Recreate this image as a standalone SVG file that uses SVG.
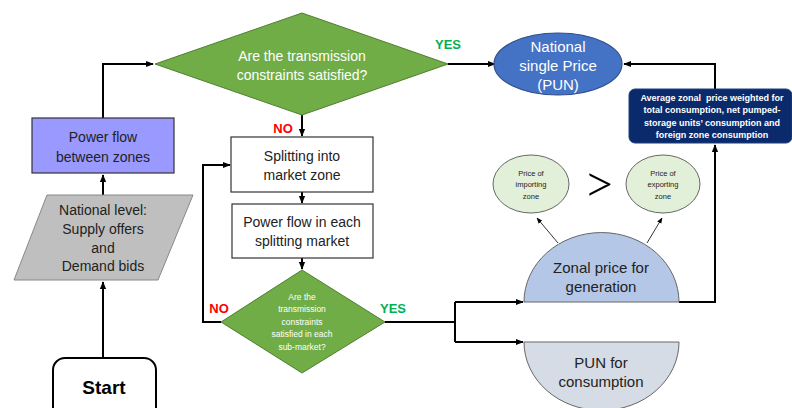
<svg xmlns="http://www.w3.org/2000/svg" width="792" height="408" viewBox="0 0 792 408">
<defs>
<marker id="ah" viewBox="0 0 10 10" refX="9" refY="5" markerWidth="4" markerHeight="4" orient="auto" markerUnits="strokeWidth"><path d="M0,1 L10,5 L0,9 z" fill="#000"/></marker>
<marker id="ahs" viewBox="0 0 10 10" refX="9" refY="5" markerWidth="6" markerHeight="6" orient="auto" markerUnits="strokeWidth"><path d="M0,1 L10,5 L0,9 z" fill="#000"/></marker>
<style>
text{font-family:"Liberation Sans","Open Sans",sans-serif;text-anchor:middle}
.c{fill:none;stroke:#000;stroke-width:2}
.t{fill:none;stroke:#333;stroke-width:1}
.w{fill:#fff}
.d{fill:#222}
.lbl{font-weight:bold;font-size:13px}
</style>
</defs>
<rect width="792" height="408" fill="#fff"/>
<g id="connectors">
<polyline class="c" points="103,118 103,64 153,64" marker-end="url(#ah)"/>
<polyline class="c" points="448,64 495,64" marker-end="url(#ah)"/>
<polyline class="c" points="715,89 715,64 624,64" marker-end="url(#ah)"/>
<polyline class="c" points="302,115 302,136" marker-end="url(#ah)"/>
<polyline class="c" points="302,192 302,203" marker-end="url(#ah)"/>
<polyline class="c" points="302,258 302,269" marker-end="url(#ah)"/>
<polyline class="c" points="103,195 103,175" marker-end="url(#ah)"/>
<polyline class="c" points="103,358 103,282" marker-end="url(#ah)"/>
<polyline class="c" points="221,322 203,322 203,165 230,165" marker-end="url(#ah)"/>
<polyline class="c" points="385,322 455,322"/>
<polyline class="c" points="455,302 455,342"/>
<polyline class="c" points="455,302 523,302" marker-end="url(#ah)"/>
<polyline class="c" points="455,342 523,342" marker-end="url(#ah)"/>
<polyline class="c" points="679,302 715,302 715,145" marker-end="url(#ah)"/>
<line class="t" x1="558" y1="243" x2="537" y2="218" marker-end="url(#ahs)"/>
<line class="t" x1="647" y1="243" x2="662" y2="218" marker-end="url(#ahs)"/>
<text x="448" y="49" class="lbl" fill="#00B050">YES</text>
<text x="283" y="133" class="lbl" fill="#FF0000">NO</text>
<text x="219" y="313" class="lbl" fill="#FF0000">NO</text>
<text x="393" y="313" class="lbl" fill="#00B050">YES</text>
</g>
<g id="decision1">
<polygon points="155,64 302,13 448,64 302,115" fill="#70AD47" stroke="#507E32" stroke-width="1"/>
<text x="302" y="61" class="w" font-size="14">Are the transmission</text>
<text x="302" y="80" class="w" font-size="14">constraints satisfied?</text>
</g>
<g id="pun">
<ellipse cx="558" cy="64" rx="64" ry="31" fill="#4472C4" stroke="#2F4F8A" stroke-width="1.2"/>
<text x="558" y="52" class="w" font-size="15">National</text>
<text x="558" y="71" class="w" font-size="15">single Price</text>
<text x="558" y="90" class="w" font-size="15">(PUN)</text>
</g>
<g id="average">
<rect x="629" y="89" width="163" height="54" rx="6" fill="#0B2A6B" stroke="#1F3F7F" stroke-width="1"/>
<text x="712" y="101" class="w" font-size="9" font-weight="bold" xml:space="preserve">Average zonal  price weighted for</text>
<text x="712" y="113" class="w" font-size="9" font-weight="bold">total consumption, net pumped-</text>
<text x="712" y="126" class="w" font-size="9" font-weight="bold">storage units’ consumption and</text>
<text x="712" y="138" class="w" font-size="9" font-weight="bold">foreign zone consumption</text>
</g>
<g id="powerflow">
<rect x="32" y="118" width="142" height="55" fill="#9999FF" stroke="#333" stroke-width="1.2"/>
<text x="103" y="142" class="d" font-size="14">Power flow</text>
<text x="103" y="162" class="d" font-size="14">between zones</text>
</g>
<g id="national">
<polygon points="47,195 193,195 158,280 14,280" fill="#BFBFBF" stroke="#888" stroke-width="1"/>
<text x="103" y="215" class="d" font-size="14">National level:</text>
<text x="103" y="234" class="d" font-size="14">Supply offers</text>
<text x="103" y="253" class="d" font-size="14">and</text>
<text x="103" y="271" class="d" font-size="14">Demand bids</text>
</g>
<g id="start">
<rect x="53" y="358" width="103" height="70" rx="12" fill="#fff" stroke="#000" stroke-width="2"/>
<text x="104" y="394" font-size="19" font-weight="bold" fill="#000">Start</text>
</g>
<g id="splitting">
<rect x="231" y="137" width="142" height="55" fill="#fff" stroke="#333" stroke-width="1.2"/>
<text x="302" y="161" class="d" font-size="14">Splitting into</text>
<text x="302" y="180" class="d" font-size="14">market zone</text>
</g>
<g id="powerflow2">
<rect x="232" y="204" width="141" height="54" fill="#fff" stroke="#333" stroke-width="1.2"/>
<text x="302" y="227" class="d" font-size="14">Power flow in each</text>
<text x="302" y="246" class="d" font-size="14">splitting market</text>
</g>
<g id="decision2">
<polygon points="221,322 302,270 385,322 302,373" fill="#70AD47" stroke="#507E32" stroke-width="1"/>
<text x="302" y="300" class="w" font-size="8.5">Are the</text>
<text x="302" y="312" class="w" font-size="8.5">transmission</text>
<text x="302" y="325" class="w" font-size="8.5">constraints</text>
<text x="302" y="337" class="w" font-size="8.5">satisfied in each</text>
<text x="302" y="350" class="w" font-size="8.5">sub-market?</text>
</g>
<g id="zonal">
<path d="M524,302 A77,69 0 0 1 679,302 Z" fill="#B4C7E7" stroke="#666" stroke-width="1"/>
<text x="601" y="273" class="d" font-size="15">Zonal price for</text>
<text x="601" y="292" class="d" font-size="15">generation</text>
</g>
<g id="punconsumption">
<path d="M524,342 A77,68 0 0 0 679,342 Z" fill="#D6DCE5" stroke="#666" stroke-width="1"/>
<text x="601" y="368" class="d" font-size="15">PUN for</text>
<text x="601" y="387" class="d" font-size="15">consumption</text>
</g>
<g id="importing">
<ellipse cx="531" cy="184" rx="38" ry="29" fill="#E2F0D9" stroke="#666" stroke-width="1"/>
<text x="531" y="176" class="d" font-size="7.5">Price of</text>
<text x="531" y="187" class="d" font-size="7.5">importing</text>
<text x="531" y="199" class="d" font-size="7.5">zone</text>
</g>
<g id="exporting">
<ellipse cx="663" cy="184" rx="37" ry="29" fill="#E2F0D9" stroke="#666" stroke-width="1"/>
<text x="663" y="176" class="d" font-size="7.5">Price of</text>
<text x="663" y="187" class="d" font-size="7.5">exporting</text>
<text x="663" y="199" class="d" font-size="7.5">zone</text>
</g>
<g id="greater">
<text x="599" y="203" font-size="56" fill="#000" style="font-family:Lato,'Open Sans',sans-serif;font-weight:300">&gt;</text>
</g>
</svg>
